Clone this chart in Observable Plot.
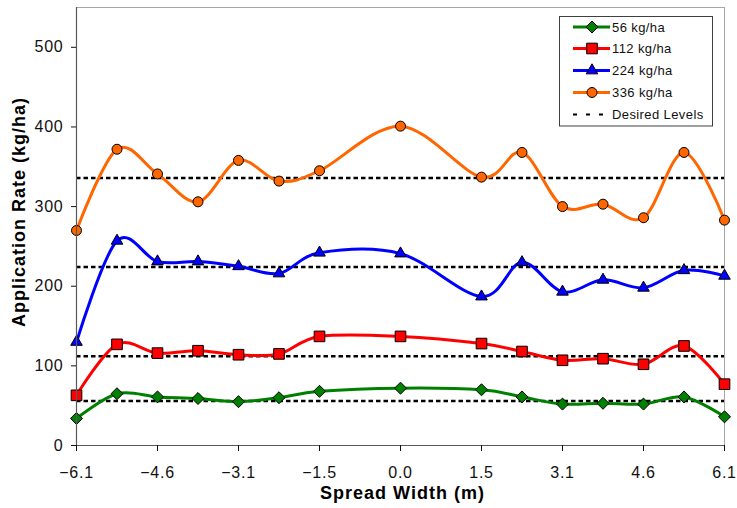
<!DOCTYPE html>
<html><head><meta charset="utf-8">
<script src="https://cdn.jsdelivr.net/npm/d3@7"></script>
<script src="https://cdn.jsdelivr.net/npm/@observablehq/plot@0.6"></script>
<style>
body{margin:0;background:#fff;font-family:"Liberation Sans",Arial,sans-serif;}
#wrap{position:relative;width:737px;height:508px;}
#legend{position:absolute;left:559px;top:15.5px;}
</style></head><body><div id="wrap"></div>
<script>
// Spread width positions (m)
const spreadWidth = [-6.096, -5.334, -4.572, -3.81, -3.048, -2.286, -1.524, 0, 1.524, 2.286, 3.048, 3.81, 4.572, 5.334, 6.096];
// Application rates (kg/ha)
const rate56  = [34, 65, 61, 59, 55, 60, 68, 72, 70, 61, 52, 53, 52, 61, 36];
const rate112 = [63, 127, 116, 119, 114, 115, 137, 137, 128, 118, 107, 109, 102, 125, 77];
const rate224 = [130, 257, 231, 231, 225, 216, 242, 241, 187, 230, 193, 208, 198, 220, 213];
const rate336 = [270, 372, 341, 306, 358, 332, 345, 401, 337, 368, 300, 303, 286, 368, 283];
const desiredLevels = [56, 112, 224, 336];
const seriesNames = ["56 kg/ha", "112 kg/ha", "224 kg/ha", "336 kg/ha"];
const seriesColors = ["#008000", "#ff0000", "#0000ff", "#ff6600"];
const seriesSymbols = ["diamond2", "square", "triangle", "circle"];
const symbolR = [5.4, 6.0, 4.3, 5];
const xTickValues = [-6.096, -4.572, -3.048, -1.524, 0, 1.524, 3.048, 4.572, 6.096];
const xTickLabels = ["\u22126.1", "\u22124.6", "\u22123.1", "\u22121.5", "0.0", "1.5", "3.1", "4.6", "6.1"];
const yTickValues = [0, 100, 200, 300, 400, 500];
const xTitle = "Spread Width (m)";
const yTitle = "Application Rate (kg/ha)";
const legendDesired = "Desired Levels";

const allSeries = [rate56, rate112, rate224, rate336];
const rows = allSeries.map((vals, i) => vals.map((v, j) => ({x: spreadWidth[j], y: v, s: seriesNames[i]})));

const marks = [
  Plot.frame({stroke: "#a6a6a6", strokeWidth: 1}),
  Plot.ruleY(desiredLevels, {stroke: "black", strokeWidth: 2.5, strokeDasharray: "4.5,3"})
];
rows.forEach((data, i) => {
  marks.push(Plot.line(data, {x: "x", y: "y", curve: "cardinal", stroke: seriesColors[i], strokeWidth: 3}));
});
rows.forEach((data, i) => {
  marks.push(Plot.dot(data, {x: "x", y: "y", symbol: () => seriesSymbols[i], r: symbolR[i], fill: seriesColors[i], stroke: "black", strokeWidth: 1}));
});
marks.push(
  Plot.ruleX([spreadWidth[0]], {stroke: "#595959", strokeWidth: 1.2}),
  Plot.ruleY([0], {stroke: "#595959", strokeWidth: 1.2}),
  Plot.axisY({ticks: yTickValues, tickSize: 5, tickPadding: 8, label: null, fontSize: 16}),
  Plot.axisX({ticks: xTickValues, tickFormat: d => xTickLabels[xTickValues.indexOf(d)], tickSize: 6, tickPadding: 15, label: null, fontSize: 16}),
  Plot.text([xTitle], {frameAnchor: "bottom", textAnchor: "middle", lineAnchor: "middle", dy: 48, dx: 2, text: d => d, fontWeight: "bold", fontSize: 18, fill: "black"}),
  Plot.text([yTitle], {frameAnchor: "left", textAnchor: "middle", lineAnchor: "middle", rotate: -90, dx: -57, dy: -14.5, text: d => d, fontWeight: "bold", fontSize: 18, fill: "black"})
);

const chart = Plot.plot({
  width: 737, height: 508,
  marginLeft: 76, marginRight: 13, marginTop: 7, marginBottom: 63,
  x: {domain: [-6.096, 6.096]},
  y: {domain: [0, 550]},
  style: {fontFamily: "'Liberation Sans', Arial, sans-serif", color: "#111", letterSpacing: "0.75px", background: "white"},
  marks
});
const wrap = document.getElementById("wrap");
wrap.appendChild(chart);
// tweak title letter spacing
d3.select(chart).selectAll("text").filter(function(){ return this.textContent === xTitle || this.textContent === yTitle; }).style("letter-spacing", "1px");

// Legend
const lw = 153, lh = 109.5;
const leg = d3.select(wrap).append("svg").attr("id", "legend").attr("width", lw + 2).attr("height", lh + 2);
leg.append("rect").attr("x", 0.5).attr("y", 0.5).attr("width", lw).attr("height", lh).attr("fill", "white").attr("stroke", "#404040");
const rowY = [11, 32.5, 54.5, 76.5, 98.5];
seriesNames.forEach((name, i) => {
  const g = leg.append("g").attr("transform", `translate(0,${rowY[i]})`);
  g.append("line").attr("x1", 14).attr("x2", 51).attr("stroke", seriesColors[i]).attr("stroke-width", 3);
  const sym = {diamond2: d3.symbolDiamond2, square: d3.symbolSquare, triangle: d3.symbolTriangle, circle: d3.symbolCircle}[seriesSymbols[i]];
  g.append("path").attr("transform", "translate(33,0)").attr("d", d3.symbol(sym, Math.PI * symbolR[i] * symbolR[i])())
    .attr("fill", seriesColors[i]).attr("stroke", "black").attr("stroke-width", 1);
  g.append("text").attr("x", 53).attr("dy", "0.35em").attr("font-size", 13).style("letter-spacing", "0.4px").attr("fill", "#111").text(name);
});
const gd = leg.append("g").attr("transform", `translate(0,${rowY[4]})`);
gd.append("line").attr("x1", 14).attr("x2", 44).attr("stroke", "black").attr("stroke-width", 2).attr("stroke-dasharray", "4,9");
gd.append("text").attr("x", 53).attr("dy", "0.35em").attr("font-size", 13).style("letter-spacing", "0.4px").attr("fill", "#111").text(legendDesired);
</script></body></html>
